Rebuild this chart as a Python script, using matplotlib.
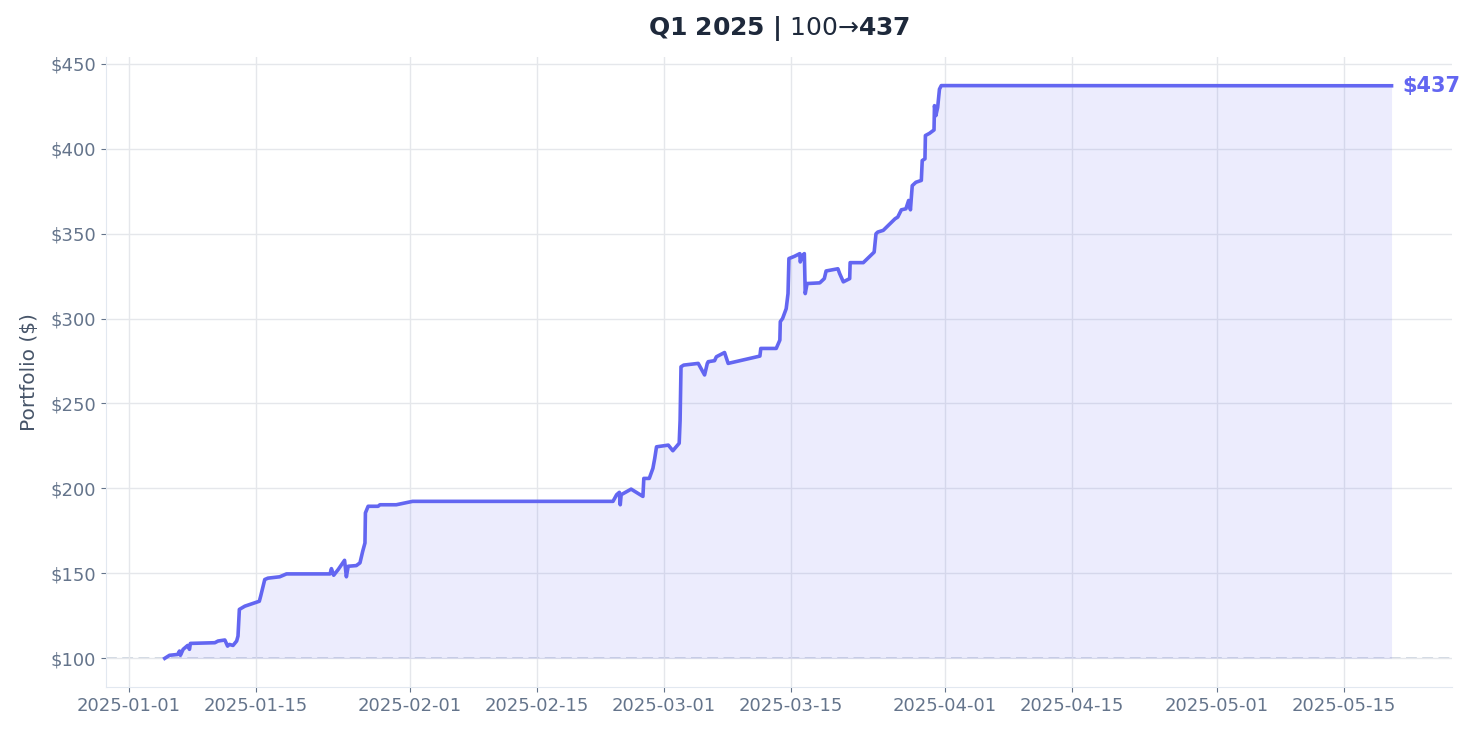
import numpy as np
import pandas as pd
import matplotlib
matplotlib.use("Agg")
import matplotlib.pyplot as plt
import matplotlib.dates as mdates

# Equity curve: days since 2025-01-01 and portfolio value ($)
trade_day = [
    3.97, 4.5, 5.4, 5.6, 5.7, 6.0, 6.5, 6.7, 6.8, 9.5, 9.85, 10.6, 10.9, 11.1,
    11.5, 11.9, 12.05, 12.2, 12.8, 14.4, 14.55, 15.0, 15.35, 16.65, 17.4,
    22.2, 22.35, 22.6, 23.1, 23.8, 24.0, 24.2, 25.1, 25.5, 25.8, 26.05, 26.1,
    26.4, 27.5, 27.7, 29.5, 31.3, 53.4, 53.8, 54.1, 54.2, 54.3, 55.4, 56.7,
    56.8, 57.4, 57.8, 58.0, 58.2, 59.5, 60.0, 60.7, 60.8, 60.9, 61.2, 62.8,
    63.5, 63.8, 63.9, 64.6, 64.8, 65.7, 66.1, 69.6, 69.7, 71.4, 71.8, 71.85,
    72.1, 72.5, 72.7, 72.8, 73.4, 74.0, 74.05, 74.3, 74.5, 74.6, 74.8, 76.2,
    76.7, 76.9, 78.2, 78.4, 78.8, 79.5, 79.55, 81.0, 82.2, 82.4, 82.6, 83.2,
    84.5, 84.8, 85.2, 85.7, 86.0, 86.2, 86.3, 86.4, 86.8, 87.4, 87.5, 87.8,
    87.85, 88.3, 88.8, 88.85, 89.0, 89.2, 89.4, 89.6, 139.25,
]
portfolio = [
    100.0, 101.8, 102.3, 104.3, 101.8, 105.3, 107.6, 105.3, 108.8, 109.2,
    110.2, 110.8, 107.2, 108.2, 107.6, 110.2, 113.1, 128.8, 130.7, 133.6,
    136.6, 146.4, 147.2, 148.0, 149.7, 149.7, 152.8, 148.9, 152.3, 157.7,
    148.0, 154.2, 154.6, 156.2, 163.0, 167.9, 185.6, 189.5, 189.5, 190.4,
    190.4, 192.4, 192.4, 196.3, 197.7, 190.4, 196.3, 199.6, 195.3, 205.9,
    205.9, 211.8, 217.6, 224.5, 225.5, 222.2, 226.6, 240.0, 271.6, 272.6,
    273.6, 266.8, 273.6, 274.6, 275.2, 277.5, 280.0, 273.6, 277.9, 282.4,
    282.4, 287.3, 298.2, 300.0, 305.8, 314.7, 335.3, 336.6, 338.2, 333.3,
    337.2, 338.2, 314.7, 320.6, 321.0, 323.5, 328.0, 329.3, 326.4, 321.6,
    323.5, 332.9, 332.9, 339.1, 349.9, 350.9, 351.9, 358.7, 359.7, 364.0,
    364.6, 369.5, 364.0, 371.3, 378.2, 380.2, 381.3, 393.0, 394.0, 407.7,
    409.0, 411.0, 425.3, 419.4, 424.2, 435.0, 437.1, 437.0,
]
start_value = 100
final_value = 437

line_color = "#6366f1"
dates = pd.Timestamp("2025-01-01") + pd.to_timedelta(trade_day, unit="D")
values = np.array(portfolio)

fig = plt.figure(figsize=(14.75, 7.36), dpi=100)
ax = fig.add_axes([0.0719, 0.0666, 0.9125, 0.856])

ax.fill_between(dates, values, start_value, color=line_color, alpha=0.12, linewidth=0)
ax.plot(dates, values, color=line_color, linewidth=2.6, solid_joinstyle="round")
ax.axhline(start_value, color="#cbd5e1", linestyle=(0, (6, 3)), linewidth=1.3, zorder=0)

ax.annotate(f"${final_value}", xy=(dates[-1], values[-1]), xytext=(8, 0),
            textcoords="offset points", va="center", ha="left",
            fontsize=15, fontweight="bold", color=line_color)

ax.set_title(r"$\bf{Q1\ 2025\ |}$ 100→$\bf{437}$", fontsize=18,
             color="#1e293b", pad=16)
ax.set_ylabel("Portfolio ($)", fontsize=14.5, color="#475569", labelpad=8)

ax.xaxis.set_major_locator(mdates.DayLocator(bymonthday=[1, 15]))
ax.xaxis.set_major_formatter(mdates.DateFormatter("%Y-%m-%d"))
ax.yaxis.set_major_formatter(plt.FuncFormatter(lambda v, p: f"${v:.0f}"))
ax.set_yticks(np.arange(100, 451, 50))
ax.set_xlim(pd.Timestamp("2024-12-29 12:00"), pd.Timestamp("2025-05-26 22:00"))

ax.grid(True, color="#e5e7eb", linewidth=1)
ax.set_axisbelow(True)
for side in ["top", "right"]:
    ax.spines[side].set_visible(False)
for side in ["left", "bottom"]:
    ax.spines[side].set_color("#e2e8f0")
ax.tick_params(axis="both", colors="#64748b", labelcolor="#64748b", labelsize=13)

fig.savefig("out.png", dpi=100)
